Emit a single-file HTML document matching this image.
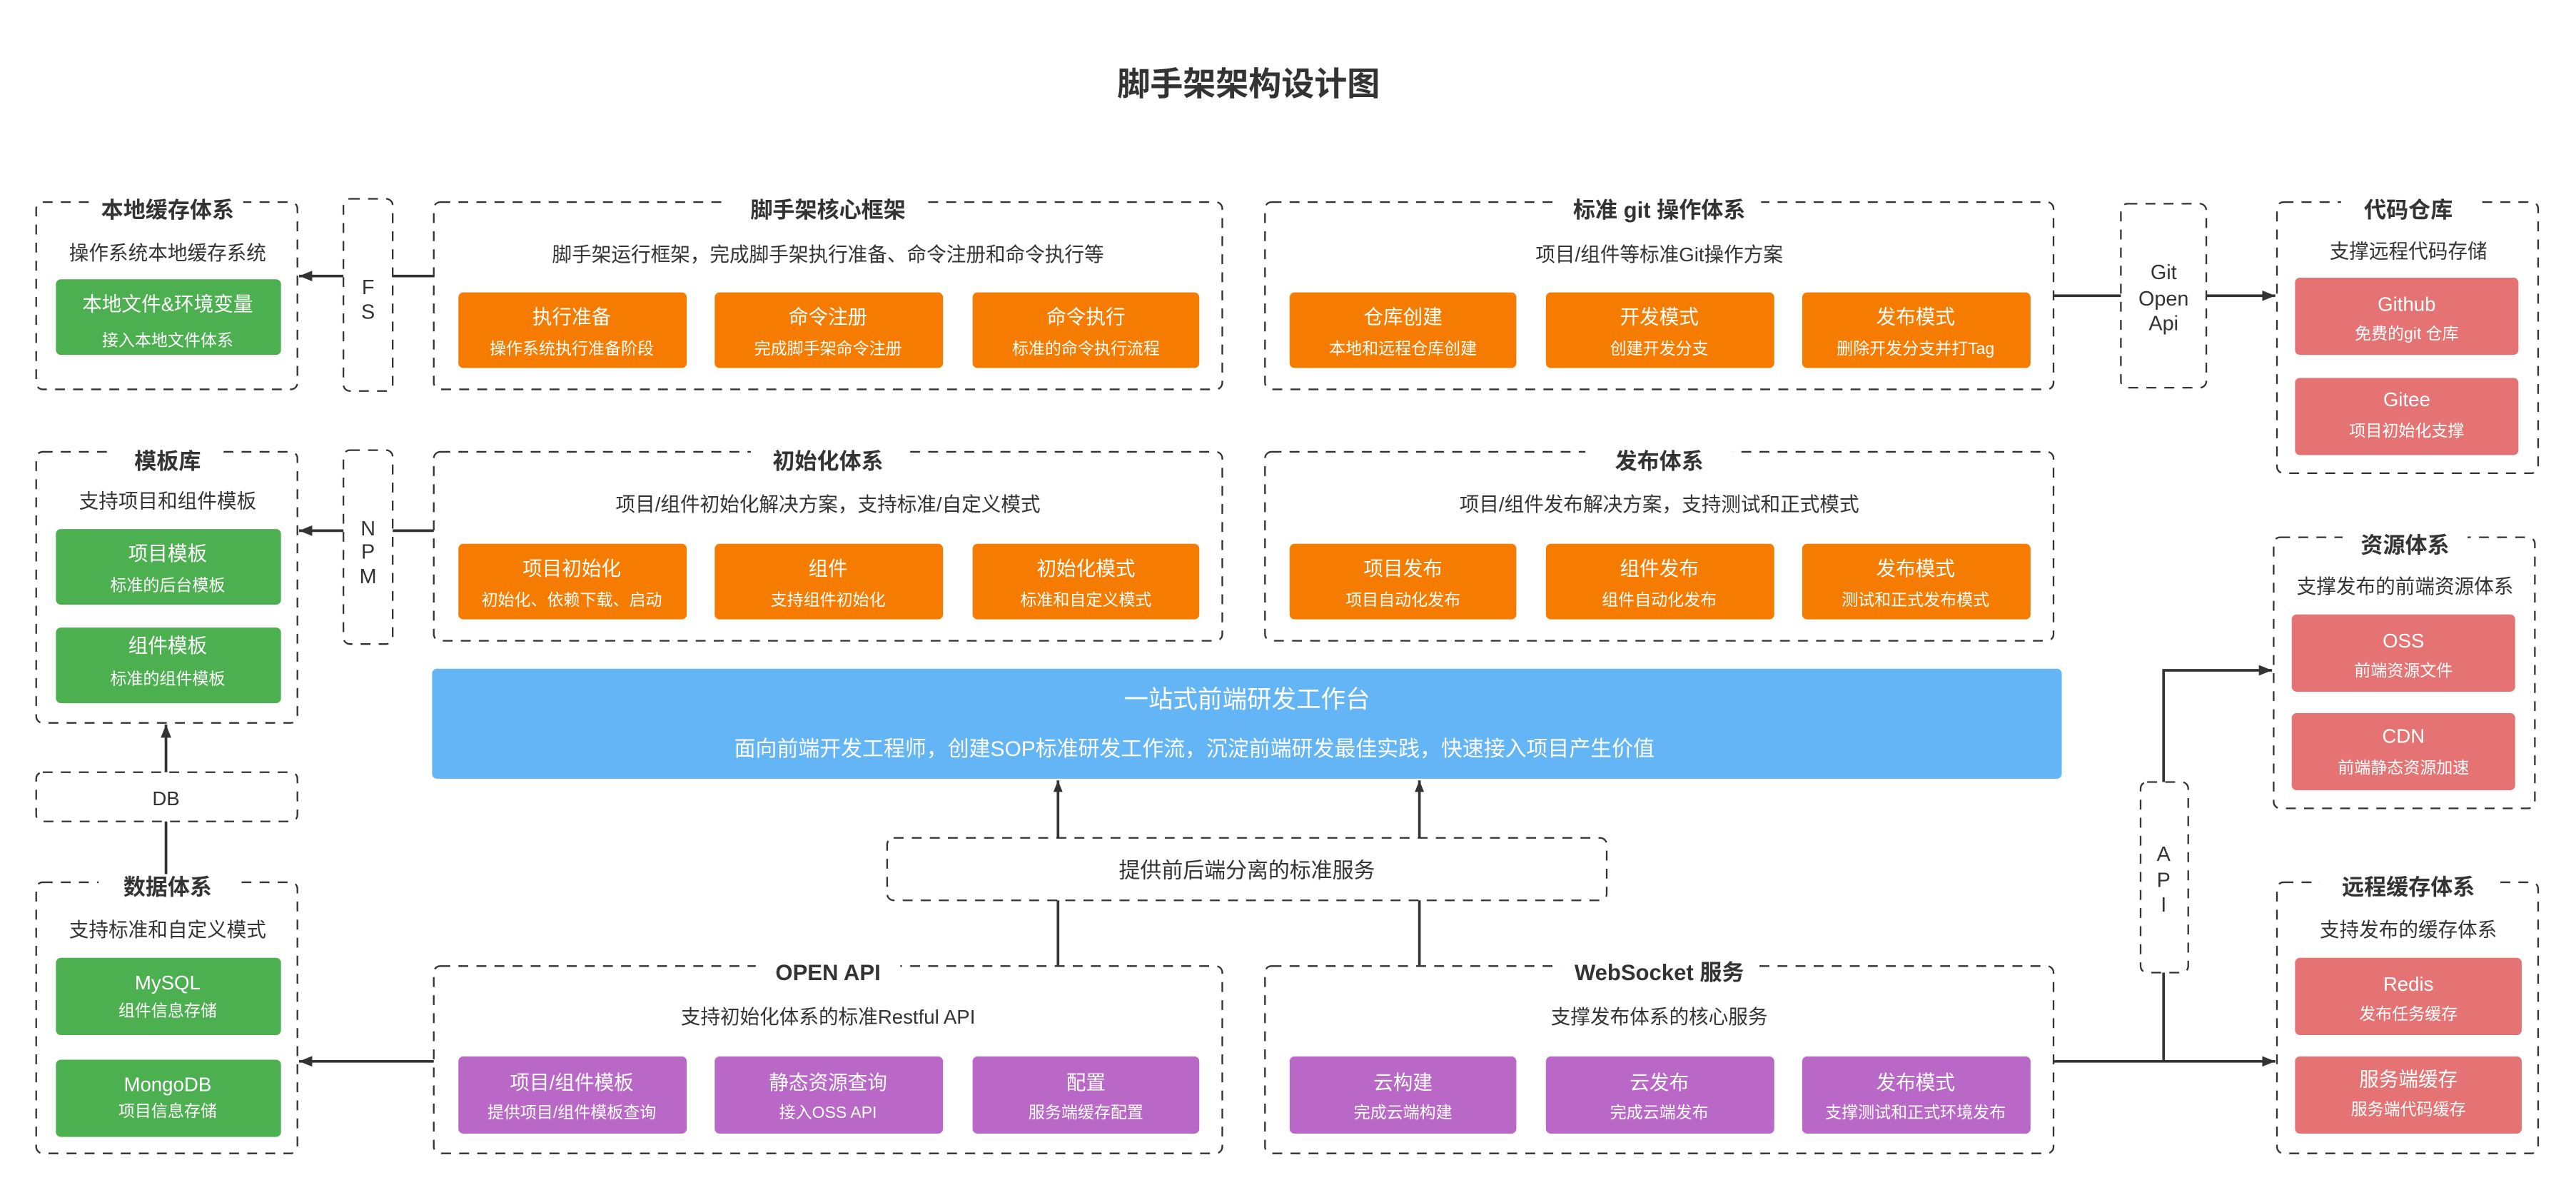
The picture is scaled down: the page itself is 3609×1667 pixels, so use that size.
<!DOCTYPE html>
<html><head><meta charset="utf-8"><style>
html,body{margin:0;padding:0;background:#fff;}
svg{display:block;}
text{font-family:"Liberation Sans","Noto Sans CJK SC",sans-serif;}
</style></head><body>
<svg width="3609" height="1667" viewBox="0 0 1568 724.3" xmlns="http://www.w3.org/2000/svg">
<defs>
<marker id="ar" viewBox="0 0 10 10" refX="10" refY="5" markerWidth="8" markerHeight="8" markerUnits="userSpaceOnUse" orient="auto"><path d="M0,1 L10,5 L0,9 z" fill="#333"/></marker>
<marker id="ar2" viewBox="0 0 10 10" refX="10" refY="5" markerWidth="9" markerHeight="7" markerUnits="userSpaceOnUse" orient="auto"><path d="M0,1 L10,5 L0,9 z" fill="#333"/></marker>
</defs>
<rect width="1568" height="724.3" fill="#fff"/>
<text x="760" y="51" font-size="20" font-weight="bold" fill="#333" text-anchor="middle" dominant-baseline="central">脚手架架构设计图</text>

<g fill="none" stroke="#333" stroke-width="1" stroke-dasharray="6 5">
<rect x="22" y="123" width="159" height="114" rx="4"/>
<rect x="209" y="121" width="30" height="117" rx="4"/>
<rect x="264" y="123" width="480" height="114" rx="4"/>
<rect x="770" y="123" width="480" height="114" rx="4"/>
<rect x="1291" y="124" width="52" height="112" rx="4"/>
<rect x="1386" y="123" width="159" height="165" rx="4"/>
<rect x="22" y="275" width="159" height="165" rx="4"/>
<rect x="209" y="274" width="30" height="118" rx="4"/>
<rect x="264" y="275" width="480" height="115" rx="4"/>
<rect x="770" y="275" width="480" height="115" rx="4"/>
<rect x="1384" y="327" width="159" height="165" rx="4"/>
<rect x="22" y="470" width="159" height="30" rx="4"/>
<rect x="540" y="510" width="438" height="38" rx="4"/>
<rect x="22" y="537" width="159" height="165" rx="4"/>
<rect x="264" y="588" width="480" height="114" rx="4"/>
<rect x="770" y="588" width="480" height="114" rx="4"/>
<rect x="1303" y="476" width="29" height="116" rx="4"/>
<rect x="1386" y="537" width="159" height="165" rx="4"/>
</g>

<!-- connectors -->
<g stroke="#333" stroke-width="1.6" fill="none">
<line x1="209" y1="168" x2="182" y2="168" marker-end="url(#ar)"/>
<line x1="239" y1="168" x2="264" y2="168"/>
<line x1="209" y1="323" x2="182" y2="323" marker-end="url(#ar)"/>
<line x1="239" y1="323" x2="264" y2="323"/>
<line x1="1250" y1="180" x2="1291" y2="180"/>
<line x1="1343" y1="180" x2="1385" y2="180" marker-end="url(#ar)"/>
<line x1="101" y1="470" x2="101" y2="441" marker-end="url(#ar)"/>
<line x1="101" y1="537" x2="101" y2="500"/>
<line x1="264" y1="646" x2="182" y2="646" marker-end="url(#ar)"/>
<line x1="644" y1="510" x2="644" y2="475" marker-end="url(#ar2)"/>
<line x1="864" y1="510" x2="864" y2="475" marker-end="url(#ar2)"/>
<line x1="644" y1="548" x2="644" y2="588"/>
<line x1="864" y1="548" x2="864" y2="588"/>
<polyline points="1317,476 1317,408 1383,408" marker-end="url(#ar)"/>
<line x1="1317" y1="592" x2="1317" y2="646"/>
<line x1="1250" y1="646" x2="1385" y2="646" marker-end="url(#ar)"/>
</g>

<!-- title backgrounds -->
<g fill="#fff">
<rect x="56" y="118" width="92" height="20"/>
<rect x="444" y="118" width="120" height="20"/>
<rect x="948" y="118" width="124" height="20"/>
<rect x="1425" y="118" width="82" height="20"/>
<rect x="68" y="270" width="68" height="20"/>
<rect x="457" y="270" width="94" height="20"/>
<rect x="965" y="270" width="90" height="20"/>
<rect x="1426" y="322" width="76" height="20"/>
<rect x="60" y="532" width="84" height="20"/>
<rect x="460" y="583" width="88" height="20"/>
<rect x="950" y="583" width="120" height="20"/>
<rect x="1412" y="532" width="110" height="20"/>
</g>

<g fill="#333" text-anchor="middle" dominant-baseline="central">
<g font-size="13.5" font-weight="bold">
<text x="102" y="128">本地缓存体系</text>
<text x="504" y="128">脚手架核心框架</text>
<text x="1010" y="128">标准 git 操作体系</text>
<text x="1466" y="128">代码仓库</text>
<text x="102" y="281">模板库</text>
<text x="504" y="281">初始化体系</text>
<text x="1010" y="281">发布体系</text>
<text x="1464" y="332">资源体系</text>
<text x="102" y="540">数据体系</text>
<text x="504" y="592">OPEN API</text>
<text x="1010" y="592">WebSocket 服务</text>
<text x="1466" y="540">远程缓存体系</text>
</g>
<g font-size="12">
<text x="102" y="154">操作系统本地缓存系统</text>
<text x="504" y="155">脚手架运行框架，完成脚手架执行准备、命令注册和命令执行等</text>
<text x="1010" y="155">项目/组件等标准Git操作方案</text>
<text x="1466" y="153">支撑远程代码存储</text>
<text x="102" y="305">支持项目和组件模板</text>
<text x="504" y="307">项目/组件初始化解决方案，支持标准/自定义模式</text>
<text x="1010" y="307">项目/组件发布解决方案，支持测试和正式模式</text>
<text x="1464" y="357">支撑发布的前端资源体系</text>
<text x="102" y="566">支持标准和自定义模式</text>
<text x="504" y="619">支持初始化体系的标准Restful API</text>
<text x="1010" y="619">支撑发布体系的核心服务</text>
<text x="1466" y="566">支持发布的缓存体系</text>
<text x="101" y="486">DB</text>
<text x="759" y="530" font-size="13">提供前后端分离的标准服务</text>
</g>
<g font-size="12.5">
<text x="224" y="175">F</text><text x="224" y="190">S</text>
<text x="224" y="322">N</text><text x="224" y="336">P</text><text x="224" y="351">M</text>
<text x="1317" y="166">Git</text><text x="1317" y="182">Open</text><text x="1317" y="197">Api</text>
<text x="1317" y="520">A</text><text x="1317" y="536">P</text><text x="1317" y="551">I</text>
</g>
</g>

<!-- colored boxes -->
<g>
<rect x="34" y="170" width="137" height="46" rx="3" fill="#4caf50"/>
<rect x="34" y="322" width="137" height="46" rx="3" fill="#4caf50"/>
<rect x="34" y="382" width="137" height="46" rx="3" fill="#4caf50"/>
<rect x="34" y="583" width="137" height="47" rx="3" fill="#4caf50"/>
<rect x="34" y="645" width="137" height="47" rx="3" fill="#4caf50"/>
<rect x="279" y="178" width="139" height="46" rx="3" fill="#f57c00"/>
<rect x="435" y="178" width="139" height="46" rx="3" fill="#f57c00"/>
<rect x="592" y="178" width="138" height="46" rx="3" fill="#f57c00"/>
<rect x="785" y="178" width="138" height="46" rx="3" fill="#f57c00"/>
<rect x="941" y="178" width="139" height="46" rx="3" fill="#f57c00"/>
<rect x="1097" y="178" width="139" height="46" rx="3" fill="#f57c00"/>
<rect x="279" y="331" width="139" height="46" rx="3" fill="#f57c00"/>
<rect x="435" y="331" width="139" height="46" rx="3" fill="#f57c00"/>
<rect x="592" y="331" width="138" height="46" rx="3" fill="#f57c00"/>
<rect x="785" y="331" width="138" height="46" rx="3" fill="#f57c00"/>
<rect x="941" y="331" width="139" height="46" rx="3" fill="#f57c00"/>
<rect x="1097" y="331" width="139" height="46" rx="3" fill="#f57c00"/>
<rect x="279" y="643" width="139" height="47" rx="3" fill="#ba68c8"/>
<rect x="435" y="643" width="139" height="47" rx="3" fill="#ba68c8"/>
<rect x="592" y="643" width="138" height="47" rx="3" fill="#ba68c8"/>
<rect x="785" y="643" width="138" height="47" rx="3" fill="#ba68c8"/>
<rect x="941" y="643" width="139" height="47" rx="3" fill="#ba68c8"/>
<rect x="1097" y="643" width="139" height="47" rx="3" fill="#ba68c8"/>
<rect x="1397" y="169" width="136" height="47" rx="3" fill="#e57373"/>
<rect x="1397" y="230" width="136" height="47" rx="3" fill="#e57373"/>
<rect x="1395" y="374" width="136" height="47" rx="3" fill="#e57373"/>
<rect x="1395" y="434" width="136" height="47" rx="3" fill="#e57373"/>
<rect x="1397" y="583" width="138" height="47" rx="3" fill="#e57373"/>
<rect x="1397" y="643" width="138" height="47" rx="3" fill="#e57373"/>
<rect x="263" y="407" width="992" height="67" rx="3" fill="#64b5f6"/>
</g>

<g fill="#fff" text-anchor="middle" dominant-baseline="central">
<text x="759" y="426" font-size="15">一站式前端研发工作台</text>
<text x="727" y="456" font-size="13">面向前端开发工程师，创建SOP标准研发工作流，沉淀前端研发最佳实践，快速接入项目产生价值</text>
<g font-size="12">
<text x="102" y="185">本地文件&amp;环境变量</text>
<text x="102" y="337">项目模板</text>
<text x="102" y="393">组件模板</text>
<text x="102" y="598">MySQL</text>
<text x="102" y="660">MongoDB</text>
<text x="348" y="193">执行准备</text>
<text x="504" y="193">命令注册</text>
<text x="661" y="193">命令执行</text>
<text x="854" y="193">仓库创建</text>
<text x="1010" y="193">开发模式</text>
<text x="1166" y="193">发布模式</text>
<text x="348" y="346">项目初始化</text>
<text x="504" y="346">组件</text>
<text x="661" y="346">初始化模式</text>
<text x="854" y="346">项目发布</text>
<text x="1010" y="346">组件发布</text>
<text x="1166" y="346">发布模式</text>
<text x="348" y="659">项目/组件模板</text>
<text x="504" y="659">静态资源查询</text>
<text x="661" y="659">配置</text>
<text x="854" y="659">云构建</text>
<text x="1010" y="659">云发布</text>
<text x="1166" y="659">发布模式</text>
<text x="1465" y="185">Github</text>
<text x="1465" y="243">Gitee</text>
<text x="1463" y="390">OSS</text>
<text x="1463" y="448">CDN</text>
<text x="1466" y="599">Redis</text>
<text x="1466" y="657">服务端缓存</text>
</g>
<g font-size="10">
<text x="102" y="207">接入本地文件体系</text>
<text x="102" y="356">标准的后台模板</text>
<text x="102" y="413">标准的组件模板</text>
<text x="102" y="615">组件信息存储</text>
<text x="102" y="676">项目信息存储</text>
<text x="348" y="212">操作系统执行准备阶段</text>
<text x="504" y="212">完成脚手架命令注册</text>
<text x="661" y="212">标准的命令执行流程</text>
<text x="854" y="212">本地和远程仓库创建</text>
<text x="1010" y="212">创建开发分支</text>
<text x="1166" y="212">删除开发分支并打Tag</text>
<text x="348" y="365">初始化、依赖下载、启动</text>
<text x="504" y="365">支持组件初始化</text>
<text x="661" y="365">标准和自定义模式</text>
<text x="854" y="365">项目自动化发布</text>
<text x="1010" y="365">组件自动化发布</text>
<text x="1166" y="365">测试和正式发布模式</text>
<text x="348" y="677">提供项目/组件模板查询</text>
<text x="504" y="677">接入OSS API</text>
<text x="661" y="677">服务端缓存配置</text>
<text x="854" y="677">完成云端构建</text>
<text x="1010" y="677">完成云端发布</text>
<text x="1166" y="677">支撑测试和正式环境发布</text>
<text x="1465" y="203">免费的git 仓库</text>
<text x="1465" y="262">项目初始化支撑</text>
<text x="1463" y="408">前端资源文件</text>
<text x="1463" y="467">前端静态资源加速</text>
<text x="1466" y="617">发布任务缓存</text>
<text x="1466" y="675">服务端代码缓存</text>
</g>
</g>
</svg>
</body></html>
